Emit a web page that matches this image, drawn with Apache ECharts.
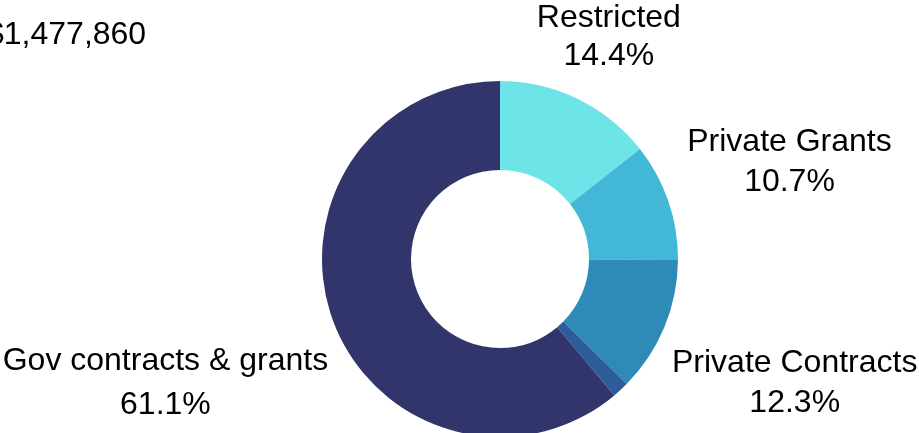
<!DOCTYPE html>
<html>
<head>
<meta charset="utf-8">
<script src="https://cdn.jsdelivr.net/npm/echarts@6/dist/echarts.min.js"></script>
<style>
html,body{margin:0;padding:0;background:#fff;}
#chart{width:919px;height:433px;}
</style>
</head>
<body>
<div id="chart"></div>
<script>
// Data
const totalLabel = '$1,477,860';
const categories = ['Restricted', 'Private Grants', 'Private Contracts', 'Other', 'Gov contracts & grants'];
const shares = [14.4, 10.7, 12.3, 1.5, 61.1];
const showLabel = [true, true, true, false, true];

// Styles (kept separate from data)
const colors = ['#6ce4e8', '#43b8d6', '#2e8bb8', '#2d5d99', '#32356b'];
const labelReach = [71, 128, 141, 150, 178];
const labelLineHeights = [38, 40, 40, 40, 44];

const chart = echarts.init(document.getElementById('chart'));
const FONT = 'Liberation Sans, Arial, sans-serif';

const seriesData = categories.map((name, i) => ({
  name: name,
  value: shares[i],
  itemStyle: { color: colors[i] },
  label: { show: showLabel[i], lineHeight: labelLineHeights[i] },
  labelLine: { length: labelReach[i] }
}));

chart.setOption({
  animation: false,
  backgroundColor: '#ffffff',
  graphic: [{
    type: 'text',
    x: -14,
    y: 35,
    style: {
      text: totalLabel,
      font: '32px ' + FONT,
      fill: '#000000',
      textVerticalAlign: 'middle',
      verticalAlign: 'middle'
    }
  }],
  series: [{
    type: 'pie',
    center: [500, 259],
    radius: [89, 178],
    startAngle: 90,
    clockwise: true,
    avoidLabelOverlap: false,
    data: seriesData,
    itemStyle: { borderWidth: 0 },
    label: {
      position: 'outside',
      alignTo: 'none',
      width: 420,
      formatter: p => p.name + '\n' + p.value.toFixed(1) + '%',
      fontFamily: FONT,
      fontSize: 32,
      lineHeight: 39,
      color: '#000000'
    },
    labelLine: {
      show: true,
      length2: 0,
      lineStyle: { width: 0, opacity: 0 }
    },
    labelLayout: function (p) {
      const pts = p.labelLinePoints;
      if (!pts || pts.length < 2) return {};
      return {
        x: pts[1][0],
        y: pts[1][1] + 2.5,
        align: 'center',
        verticalAlign: 'middle'
      };
    }
  }]
});
</script>
</body>
</html>
